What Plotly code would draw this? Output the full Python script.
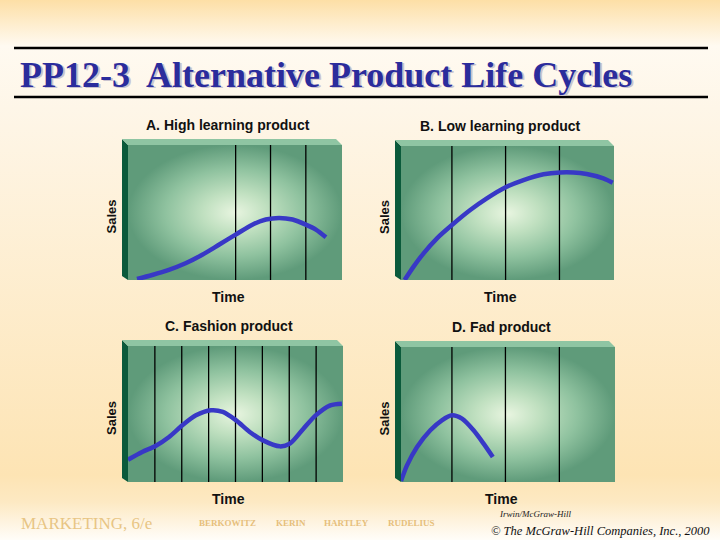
import plotly.graph_objects as go

W, H = 720, 540

# ---------------- data ----------------
panel_titles = ["A. High learning product", "B. Low learning product",
                "C. Fashion product", "D. Fad product"]
x_label = "Time"
y_label = "Sales"

# stage boundaries (percent of time axis)
stages_a = [50.3, 66.6, 83.1]
stages_b = [23.9, 49.1, 74.4]
stages_c = [12.5, 25.0, 37.5, 50.0, 62.5, 75.0, 87.5]
stages_d = [23.8, 48.8, 74.0]

# sales curves (time %, sales %)
time_a = [4.2, 11.3, 19.1, 26.9, 34.7, 42.5, 50.3, 58.1, 64.4, 70.6, 76.9, 83.1, 87.8, 92.5]
sales_a = [0.7, 3.7, 7.5, 12.4, 18.7, 26.1, 33.6, 41.0, 44.8, 46.0, 44.8, 41.0, 37.3, 31.6]

time_b = [1.7, 5.9, 10.6, 16.9, 23.9, 32.5, 40.3, 49.1, 57.5, 66.9, 74.7, 80.9, 87.2, 95.0, 99.4]
sales_b = [0.0, 10.0, 19.9, 31.1, 41.0, 52.2, 60.9, 69.2, 74.6, 78.9, 80.3, 80.3, 79.1, 75.9, 72.6]

time_c = [0.0, 6.6, 12.8, 19.1, 25.3, 31.6, 38.6, 44.1, 50.3, 56.6, 62.8, 70.6, 75.3, 81.6, 87.3, 94.1, 99.5]
sales_c = [16.4, 22.1, 26.5, 33.1, 41.7, 49.0, 52.7, 51.5, 45.3, 36.8, 30.6, 26.2, 28.2, 39.2, 49.0, 56.4, 57.6]

time_d = [0.0, 2.8, 7.5, 13.7, 19.1, 23.8, 28.5, 33.9, 38.6, 42.9]
sales_d = [0.7, 12.3, 25.9, 38.3, 45.7, 49.4, 46.9, 38.3, 28.4, 18.5]

# ---------------- styling ----------------
CURVE = "#3838c6"
WALL = "#0b5a3b"
TOP = "#8fc5a3"
FACE_SCALE = [[0.0, "#e8f5e0"], [0.3, "#c0e0c0"], [0.65, "#8fc29f"], [1.0, "#5f9b7a"]]
BG_SCALE = [[0.0, "#fddfa6"], [0.085, "#fffaf1"], [0.2, "#fef6e8"],
            [0.88, "#fde4b4"], [0.93, "#fde9c3"], [1.0, "#fffdf9"]]

# panel face pixel boxes: (left, right, top, bottom)
boxes = [(128, 342, 145, 280), (401, 614, 146, 280),
         (128, 343, 346, 482), (401, 615, 347, 482)]

def px(x):
    return x / W

def py(y):
    return 1 - y / H

fig = go.Figure()

# background (first subplot, full page)
fig.add_trace(go.Scatter(
    x=[0, W, W, 0, 0], y=[0, 0, H, H, 0], mode="lines", fill="toself",
    line=dict(width=0), hoverinfo="skip", showlegend=False,
    fillgradient=dict(type="vertical", colorscale=BG_SCALE, start=0, stop=H),
    xaxis="x", yaxis="y"))

layout_axes = {
    "xaxis": dict(domain=[0, 1], range=[0, W], visible=False, fixedrange=True),
    "yaxis": dict(domain=[0, 1], range=[H, 0], visible=False, fixedrange=True),
}

panels = [
    (time_a, sales_a, stages_a),
    (time_b, sales_b, stages_b),
    (time_c, sales_c, stages_c),
    (time_d, sales_d, stages_d),
]

shapes = []
annotations = []
SANS = "Liberation Sans, Arial"

for i, ((tx, sy, st), (l, r, t, b), title) in enumerate(zip(panels, boxes, panel_titles)):
    n = i + 2
    xa, ya = f"x{n}", f"y{n}"
    layout_axes[f"xaxis{n}"] = dict(domain=[px(l), px(r)], range=[0, 100], visible=False,
                                    fixedrange=True, anchor=ya)
    layout_axes[f"yaxis{n}"] = dict(domain=[py(b), py(t)], range=[0, 100], visible=False,
                                    fixedrange=True, anchor=xa)
    # face gradient
    fig.add_trace(go.Scatter(
        x=[0, 100, 100, 0, 0], y=[0, 0, 100, 100, 0], mode="lines", fill="toself",
        line=dict(width=0), hoverinfo="skip", showlegend=False,
        fillgradient=dict(type="radial", colorscale=FACE_SCALE),
        xaxis=xa, yaxis=ya))
    # stage lines
    sx, syl = [], []
    for v in st:
        sx += [v, v, None]
        syl += [0, 100, None]
    fig.add_trace(go.Scatter(x=sx, y=syl, mode="lines", line=dict(color="#000000", width=1.3),
                             hoverinfo="skip", showlegend=False, xaxis=xa, yaxis=ya))
    # curve
    fig.add_trace(go.Scatter(x=tx, y=sy, mode="lines",
                             line=dict(color=CURVE, width=4.5, shape="spline", smoothing=0.8),
                             showlegend=False, xaxis=xa, yaxis=ya))
    d = 6
    # left wall
    shapes.append(dict(type="path", xref="paper", yref="paper", layer="above",
                       path=f"M {px(l-d)},{py(t-d)} L {px(l)},{py(t)} L {px(l)},{py(b)} L {px(l-d)},{py(b-4)} Z",
                       fillcolor=WALL, line=dict(width=0)))
    # top strip
    shapes.append(dict(type="path", xref="paper", yref="paper", layer="above",
                       path=f"M {px(l-d)},{py(t-d)} L {px(r-d)},{py(t-d)} L {px(r)},{py(t)} L {px(l)},{py(t)} Z",
                       fillcolor=TOP, line=dict(width=0)))
    cx = (l + r) / 2
    annotations.append(dict(text=f"<b>{title}</b>", x=px(cx - 7), y=py(t - 20), xref="paper", yref="paper",
                            showarrow=False, xanchor="center", yanchor="middle",
                            font=dict(family=SANS, size=14, color="#111111")))
    annotations.append(dict(text=f"<b>{x_label}</b>", x=px(cx - 7), y=py(b + 17), xref="paper", yref="paper",
                            showarrow=False, xanchor="center", yanchor="middle",
                            font=dict(family=SANS, size=14, color="#111111")))
    annotations.append(dict(text=f"<b>{y_label}</b>", x=px(l - 17), y=py((t + b) / 2 + 4), xref="paper",
                            yref="paper", showarrow=False, xanchor="center", yanchor="middle",
                            textangle=-90, font=dict(family=SANS, size=13, color="#111111")))

# title rules
for yv in (48, 97):
    shapes.append(dict(type="line", xref="paper", yref="paper", x0=px(14), x1=px(708),
                       y0=py(yv), y1=py(yv), line=dict(color="#000000", width=2.5)))

title = "PP12-3  Alternative Product Life Cycles"
annotations.append(dict(text=f"<b>{title}</b>", x=px(19.5), y=py(76.5), xref="paper", yref="paper",
                        showarrow=False, xanchor="left", yanchor="middle",
                        font=dict(family="Liberation Serif, Times New Roman", size=36, color="#c9c3cf")))
annotations.append(dict(text=f"<b>{title}</b>", x=px(18), y=py(75), xref="paper", yref="paper",
                        showarrow=False, xanchor="left", yanchor="middle",
                        font=dict(family="Liberation Serif, Times New Roman", size=36, color="#2b2c9c")))

# footer
annotations.append(dict(text="MARKETING, 6/e", x=px(19), y=py(523), xref="paper", yref="paper",
                        showarrow=False, xanchor="left", yanchor="middle",
                        font=dict(family="Liberation Serif", size=17, color="#e8c584")))
for name, xx in [("BERKOWITZ", 197), ("KERIN", 274), ("HARTLEY", 322), ("RUDELIUS", 386)]:
    annotations.append(dict(text=f"<b>{name}</b>", x=px(xx), y=py(523), xref="paper", yref="paper",
                            showarrow=False, xanchor="left", yanchor="middle",
                            font=dict(family="Liberation Serif", size=9, color="#e6bf7c")))
annotations.append(dict(text="<i>Irwin/McGraw-Hill</i>", x=px(497), y=py(514), xref="paper", yref="paper",
                        showarrow=False, xanchor="left", yanchor="middle",
                        font=dict(family="Liberation Serif", size=9, color="#222222")))
annotations.append(dict(text="<i>© The McGraw-Hill Companies, Inc., 2000</i>", x=px(489), y=py(531),
                        xref="paper", yref="paper", showarrow=False, xanchor="left", yanchor="middle",
                        font=dict(family="Liberation Serif", size=12.5, color="#111111")))

fig.update_layout(
    width=W, height=H, margin=dict(l=0, r=0, t=0, b=0),
    paper_bgcolor="#fef6e8", plot_bgcolor="rgba(0,0,0,0)",
    showlegend=False, shapes=shapes, annotations=annotations,
    **layout_axes)

fig.write_html("out.html", config={"displayModeBar": False},
               post_script="document.body.style.margin='0';document.body.style.overflow='hidden';")
